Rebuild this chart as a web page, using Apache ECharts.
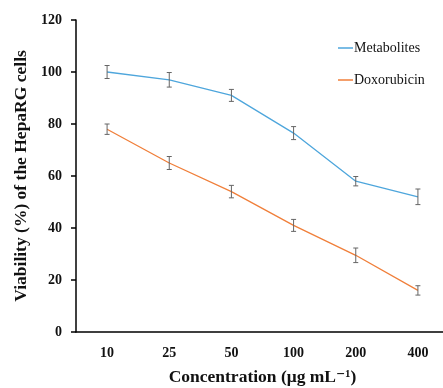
<!DOCTYPE html>
<html>
<head>
<meta charset="utf-8">
<script src="https://cdn.jsdelivr.net/npm/echarts@6/dist/echarts.min.js"></script>
<style>
  html, body { margin: 0; padding: 0; background: #fff; }
  #chart { width: 443px; height: 388px; }
</style>
</head>
<body>
<div id="chart"></div>
<script>
const concentrations = ['10', '25', '50', '100', '200', '400'];
const metabolites = [100, 97, 91, 76.5, 58, 52];
const metabolitesErr = [2.5, 2.8, 2.3, 2.5, 1.8, 3];
const doxorubicin = [78, 65, 54, 41, 29.5, 16];
const doxorubicinErr = [2, 2.5, 2.4, 2.3, 2.8, 1.8];

const serif = '"Liberation Serif", "DejaVu Serif", serif';

function errorSeries(name, values, errs) {
  return {
    type: 'custom',
    name: name + ' err',
    data: values.map((v, i) => [i, v - errs[i], v + errs[i]]),
    z: 5,
    silent: true,
    renderItem: (params, api) => {
      const lo = api.coord([api.value(0), api.value(1)]);
      const hi = api.coord([api.value(0), api.value(2)]);
      const cap = 2.5;
      const style = { stroke: '#666', lineWidth: 1 };
      return {
        type: 'group',
        children: [
          { type: 'line', shape: { x1: lo[0], y1: lo[1], x2: hi[0], y2: hi[1] }, style },
          { type: 'line', shape: { x1: lo[0] - cap, y1: lo[1], x2: lo[0] + cap, y2: lo[1] }, style },
          { type: 'line', shape: { x1: hi[0] - cap, y1: hi[1], x2: hi[0] + cap, y2: hi[1] }, style }
        ]
      };
    }
  };
}

const chart = echarts.init(document.getElementById('chart'));
chart.setOption({
  animation: false,
  textStyle: { fontFamily: serif },
  grid: { left: 76, top: 20, width: 373, bottom: 56, outerBoundsMode: 'none' },
  legend: {
    orient: 'vertical',
    left: 338,
    top: 40,
    padding: 0,
    itemGap: 16,
    icon: 'rect',
    itemWidth: 15,
    itemHeight: 1.5,
    data: ['Metabolites', 'Doxorubicin'],
    textStyle: { fontFamily: serif, fontSize: 14, lineHeight: 16, color: '#111', padding: [0, 0, 0, -4] }
  },
  xAxis: {
    type: 'category',
    data: concentrations,
    name: 'Concentration (μg mL⁻¹)',
    nameLocation: 'middle',
    nameGap: 36,
    nameTextStyle: { fontFamily: serif, fontWeight: 'bold', fontSize: 17.5, color: '#111' },
    axisLine: { lineStyle: { color: '#000', width: 1.5 } },
    axisTick: { length: 5, lineStyle: { color: '#000', width: 1.5 } },
    axisLabel: { margin: 14, fontFamily: serif, fontWeight: 'bold', fontSize: 14, color: '#111' },
    splitLine: { show: false }
  },
  yAxis: {
    type: 'value',
    min: 0,
    max: 120,
    interval: 20,
    name: 'Viability (%) of the HepaRG cells',
    nameLocation: 'middle',
    nameGap: 40,
    nameTextStyle: { fontFamily: serif, fontWeight: 'bold', fontSize: 17.5, color: '#111' },
    axisLine: { show: true, lineStyle: { color: '#000', width: 1.5 } },
    axisTick: { show: true, length: 5, lineStyle: { color: '#000', width: 1.5 } },
    axisLabel: { margin: 14, fontFamily: serif, fontWeight: 'bold', fontSize: 14, color: '#111' },
    splitLine: { show: false }
  },
  series: [
    {
      name: 'Metabolites',
      type: 'line',
      data: metabolites,
      showSymbol: false,
      lineStyle: { color: '#4ea6dc', width: 1.3 },
      itemStyle: { color: '#4ea6dc' },
      z: 3
    },
    {
      name: 'Doxorubicin',
      type: 'line',
      data: doxorubicin,
      showSymbol: false,
      lineStyle: { color: '#f07f3a', width: 1.3 },
      itemStyle: { color: '#f07f3a' },
      z: 3
    },
    errorSeries('Metabolites', metabolites, metabolitesErr),
    errorSeries('Doxorubicin', doxorubicin, doxorubicinErr)
  ]
});
</script>
</body>
</html>
